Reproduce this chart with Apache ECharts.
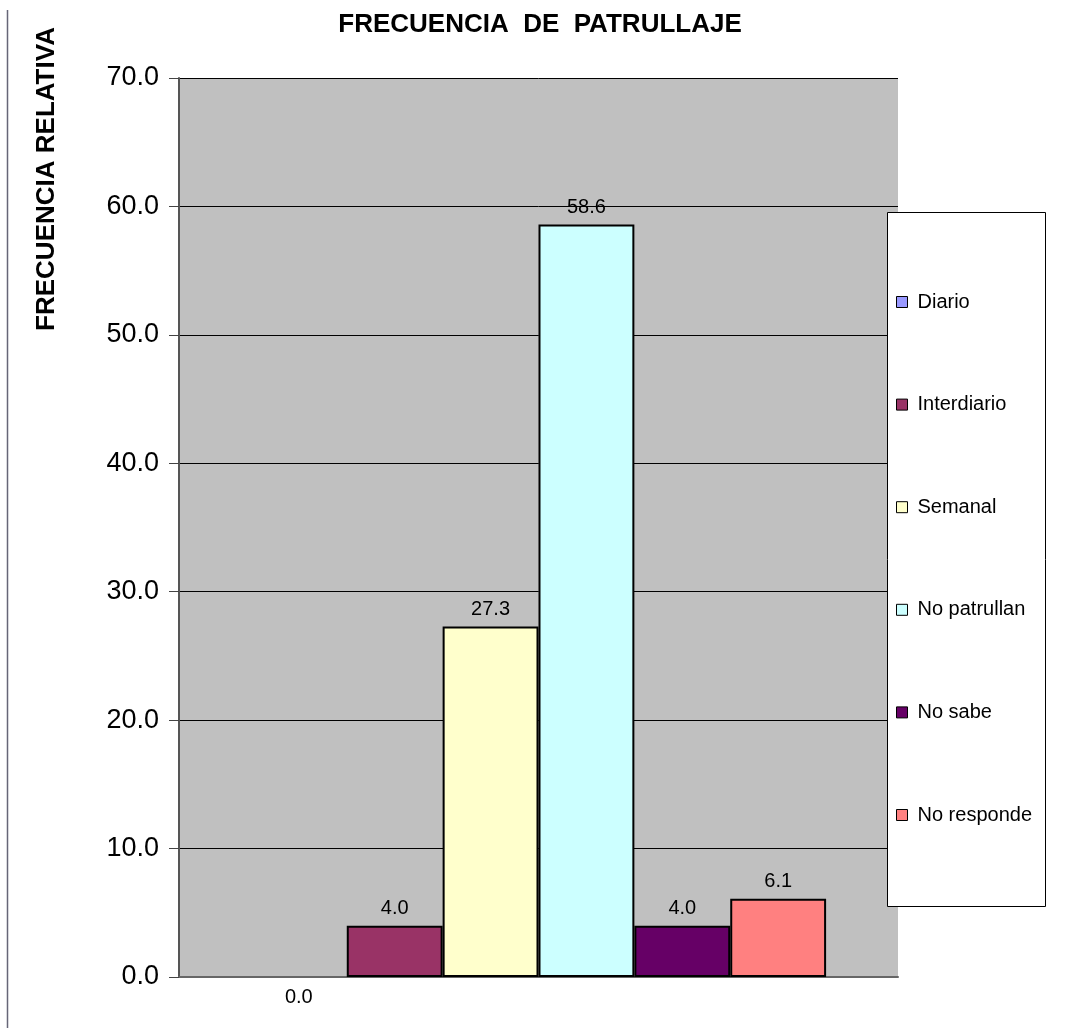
<!DOCTYPE html>
<html>
<head>
<meta charset="utf-8">
<script src="https://cdn.jsdelivr.net/npm/echarts@6/dist/echarts.min.js"></script>
<style>
html,body{margin:0;padding:0;background:#fff;}
#chart{width:1079px;height:1028px;}
</style>
</head>
<body>
<div id="chart"></div>
<script>
const categories = [''];
const seriesNames = ['Diario', 'Interdiario', 'Semanal', 'No patrullan', 'No sabe', 'No responde'];
const values = [0.0, 4.0, 27.3, 58.6, 4.0, 6.1];
const colors = ['#9999FF', '#993366', '#FFFFCC', '#CCFFFF', '#660066', '#FF8080'];
const yMin = 0, yMax = 70, yInterval = 10;
const titleText = 'FRECUENCIA  DE  PATRULLAJE';
const yAxisTitle = 'FRECUENCIA RELATIVA';

const chart = echarts.init(document.getElementById('chart'));

const series = seriesNames.map((name, i) => ({
  name: name,
  type: 'bar',
  data: [values[i]],
  barGap: '0%',
  barCategoryGap: '20%',
  itemStyle: { color: colors[i], borderColor: '#000', borderWidth: values[i] === 0 ? 0 : 2 },
  label: {
    show: true,
    position: values[i] === 0 ? 'bottom' : 'top',
    distance: values[i] === 0 ? 10 : 7,
    formatter: p => p.value.toFixed(1),
    fontFamily: 'Liberation Sans',
    fontSize: 20,
    color: '#000'
  },
  z: 3
}));

chart.setOption({
  animation: false,
  backgroundColor: '#fff',
  title: {
    text: titleText,
    left: 535,
    top: 7,
    textAlign: 'center',
    textStyle: { fontFamily: 'Liberation Sans', fontWeight: 'bold', fontSize: 26, color: '#000' }
  },
  grid: {
    left: 179, right: 181, top: 78, bottom: 51,
    show: true, backgroundColor: '#C0C0C0', borderWidth: 0
  },
  xAxis: {
    type: 'category',
    data: categories,
    axisLine: { show: true, lineStyle: { color: '#666', width: 2 } },
    axisTick: { show: false },
    axisLabel: { show: false }
  },
  yAxis: {
    type: 'value',
    min: yMin, max: yMax, interval: yInterval,
    axisLine: { show: true, lineStyle: { color: '#555', width: 2 } },
    axisTick: { show: true, length: 10, lineStyle: { color: '#444', width: 1 } },
    axisLabel: {
      formatter: v => v.toFixed(1),
      fontFamily: 'Liberation Sans', fontSize: 27, color: '#000', margin: 20
    },
    splitLine: { show: true, lineStyle: { color: '#000', width: 1 } }
  },
  legend: {
    orient: 'vertical',
    left: 896, top: 292,
    padding: 0,
    itemWidth: 11, itemHeight: 11,
    itemGap: 82.6,
    icon: 'rect',
    itemStyle: { borderColor: '#000', borderWidth: 1 },
    textStyle: { fontFamily: 'Liberation Sans', fontSize: 20, color: '#000', lineHeight: 20, padding: [0, 0, 0, 5] },
    data: seriesNames,
    z: 10
  },
  graphic: [
    {
      type: 'rect', z: 5,
      shape: { x: 887.5, y: 212.5, width: 158, height: 694 },
      style: { fill: '#fff', stroke: '#000', lineWidth: 1 }
    },
    {
      type: 'line', z: 5,
      shape: { x1: 7.5, y1: 10, x2: 7.5, y2: 1028 },
      style: { stroke: '#667', lineWidth: 1.5 }
    },
    {
      type: 'text', z: 5,
      x: 47, y: 179, rotation: Math.PI / 2,
      style: {
        text: yAxisTitle, fill: '#000',
        font: 'bold 26px "Liberation Sans"',
        textAlign: 'center', textVerticalAlign: 'middle'
      }
    }
  ],
  series: series
});
</script>
</body>
</html>
